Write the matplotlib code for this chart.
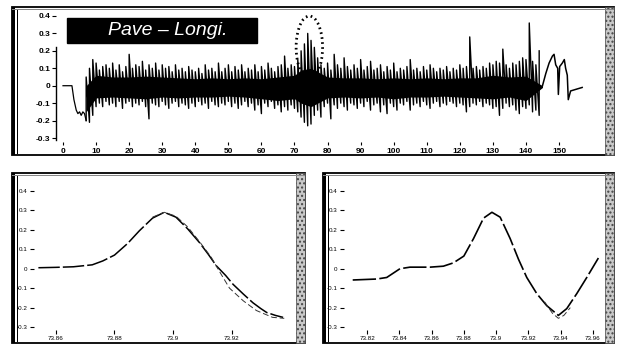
import numpy as np
import matplotlib
matplotlib.use("Agg")
import matplotlib.pyplot as plt
from matplotlib.patches import Rectangle, Ellipse

W, H = 630, 346

# ---- top panel: pavement longitudinal signal ----
pre_x = [0, 2.7, 3.3, 4.0, 4.5, 5.0, 5.5, 6.0, 6.5, 7.0]
pre_y = [0, 0, -0.08, -0.14, -0.16, -0.15, -0.17, -0.15, -0.16, -0.20]

sig_x = list(range(7, 145))
sig_hi = [0.05, 0.10, 0.15, 0.13, 0.09, 0.11, 0.12, 0.10, 0.13, 0.09,
          0.12, 0.08, 0.11, 0.18, 0.10, 0.12, 0.11, 0.14, 0.09, 0.12,
          0.10, 0.13, 0.09, 0.12, 0.10, 0.11, 0.08, 0.12, 0.09, 0.10,
          0.08, 0.11, 0.09, 0.08, 0.10, 0.07, 0.12, 0.09, 0.10, 0.08,
          0.13, 0.08, 0.10, 0.12, 0.08, 0.11, 0.09, 0.12, 0.08, 0.10,
          0.09, 0.12, 0.08, 0.11, 0.09, 0.13, 0.10, 0.08, 0.11, 0.12,
          0.17, 0.10, 0.12, 0.11, 0.15, 0.20, 0.24, 0.30, 0.26, 0.22,
          0.16, 0.12, 0.10, 0.13, 0.09, 0.18, 0.12, 0.10, 0.16, 0.11,
          0.09, 0.12, 0.10, 0.15, 0.09, 0.11, 0.14, 0.09, 0.10, 0.12,
          0.08, 0.11, 0.09, 0.13, 0.08, 0.10, 0.09, 0.11, 0.15, 0.09,
          0.10, 0.08, 0.11, 0.09, 0.12, 0.10, 0.08, 0.10, 0.09, 0.11,
          0.08, 0.10, 0.09, 0.12, 0.10, 0.11, 0.28, 0.10, 0.11, 0.09,
          0.11, 0.10, 0.13, 0.12, 0.14, 0.13, 0.21, 0.12, 0.10, 0.13,
          0.12, 0.14, 0.16, 0.15, 0.36, 0.14, 0.12, 0.20]
sig_lo = [-0.20, -0.21, -0.17, -0.12, -0.10, -0.12, -0.09, -0.11, -0.10, -0.12,
          -0.09, -0.13, -0.10, -0.09, -0.12, -0.10, -0.11, -0.09, -0.12, -0.19,
          -0.10, -0.11, -0.12, -0.09, -0.11, -0.13, -0.10, -0.09, -0.12, -0.10,
          -0.11, -0.13, -0.10, -0.12, -0.09, -0.11, -0.10, -0.13, -0.09, -0.11,
          -0.12, -0.10, -0.11, -0.09, -0.12, -0.10, -0.13, -0.11, -0.09, -0.12,
          -0.10, -0.14, -0.11, -0.16, -0.10, -0.12, -0.09, -0.13, -0.11, -0.15,
          -0.12, -0.14, -0.11, -0.13, -0.15, -0.18, -0.21, -0.23, -0.22, -0.17,
          -0.14, -0.18, -0.12, -0.10, -0.19, -0.11, -0.13, -0.10, -0.12, -0.14,
          -0.10, -0.11, -0.13, -0.10, -0.12, -0.09, -0.14, -0.11, -0.10, -0.15,
          -0.11, -0.16, -0.10, -0.12, -0.14, -0.10, -0.11, -0.09, -0.14, -0.11,
          -0.10, -0.12, -0.09, -0.11, -0.13, -0.10, -0.09, -0.12, -0.10, -0.11,
          -0.09, -0.10, -0.12, -0.10, -0.11, -0.15, -0.12, -0.10, -0.11, -0.09,
          -0.12, -0.10, -0.11, -0.13, -0.12, -0.17, -0.13, -0.10, -0.12, -0.11,
          -0.14, -0.16, -0.12, -0.13, -0.11, -0.15, -0.14, -0.17]

core_x = [7, 10, 15, 20, 25, 30, 35, 40, 45, 50, 55, 60, 65, 70, 72, 75, 78, 80,
          85, 90, 95, 100, 105, 110, 115, 120, 125, 130, 135, 140, 145]
core_hi = [0.0, 0.06, 0.05, 0.05, 0.055, 0.05, 0.045, 0.04, 0.045, 0.04, 0.045, 0.04,
           0.05, 0.06, 0.09, 0.10, 0.07, 0.05, 0.045, 0.045, 0.04, 0.045, 0.04, 0.045,
           0.04, 0.045, 0.045, 0.06, 0.05, 0.055, 0.0]
core_lo = [-0.15, -0.07, -0.065, -0.07, -0.075, -0.065, -0.07, -0.065, -0.065, -0.06,
           -0.065, -0.075, -0.085, -0.075, -0.10, -0.12, -0.09, -0.07, -0.065, -0.07,
           -0.065, -0.075, -0.065, -0.065, -0.06, -0.065, -0.07, -0.075, -0.065, -0.085, -0.01]

post_x = [145, 146, 147, 148, 148.5, 149, 149.6, 149.8, 150.2, 151, 151.6, 152,
          152.5, 152.8, 153.5, 157]
post_y = [0.0, 0.07, 0.13, 0.17, 0.18, 0.12, 0.10, -0.05, 0.11, 0.13, 0.15, 0.10,
          0.06, -0.08, -0.03, -0.01]

top_xticks = list(range(0, 151, 10))
top_yticks = [0.4, 0.3, 0.2, 0.1, 0, -0.1, -0.2, -0.3]
top_ylabels = ["0.4", "0.3", "0.2", "0.1", "0", "-0.1", "-0.2", "-0.3"]

# ---- bottom left zoom ----
bl_x1 = [73.854, 73.860, 73.866, 73.8724, 73.876, 73.880, 73.8845, 73.8885, 73.893,
         73.897, 73.901, 73.905, 73.909, 73.912, 73.9148, 73.918, 73.9205, 73.924,
         73.9273, 73.930, 73.932, 73.935, 73.9376]
bl_y1 = [0.005, 0.007, 0.01, 0.02, 0.04, 0.07, 0.13, 0.195, 0.26, 0.29, 0.265, 0.205,
         0.135, 0.075, 0.015, -0.035, -0.08, -0.13, -0.175, -0.205, -0.225, -0.24, -0.25]
bl_x2 = [73.893, 73.897, 73.901, 73.905, 73.909, 73.913, 73.9165, 73.9193, 73.924,
         73.9285, 73.934, 73.938]
bl_y2 = [0.265, 0.29, 0.27, 0.215, 0.14, 0.06, -0.03, -0.10, -0.165, -0.215, -0.25, -0.255]
bl_xticks = [73.86, 73.88, 73.9, 73.92]
bl_xlabels = ["73.86", "73.88", "73.9", "73.92"]

# ---- bottom right zoom ----
br_x1 = [73.8111, 73.826, 73.8322, 73.8404, 73.8466, 73.859, 73.8673, 73.8735, 73.88,
         73.886, 73.8922, 73.8974, 73.9025, 73.9087, 73.9139, 73.919, 73.9252, 73.9314,
         73.9386, 73.9438, 73.95, 73.9562, 73.9634]
br_y1 = [-0.058, -0.053, -0.045, 0.0, 0.008, 0.008, 0.013, 0.03, 0.065, 0.155, 0.26,
         0.29, 0.265, 0.155, 0.048, -0.045, -0.128, -0.19, -0.24, -0.205, -0.128,
         -0.045, 0.055]
br_x2 = [73.930, 73.935, 73.9386, 73.942, 73.946]
br_y2 = [-0.17, -0.23, -0.255, -0.24, -0.20]
br_xticks = [73.82, 73.84, 73.86, 73.88, 73.9, 73.92, 73.94, 73.96]
br_xlabels = ["73.82", "73.84", "73.86", "73.88", "73.9", "73.92", "73.94", "73.96"]

small_yticks = [0.4, 0.3, 0.2, 0.1, 0, -0.1, -0.2, -0.3]
small_ylabels = ["0.4", "0.3", "0.2", "0.1", "0", "-0.1", "-0.2", "-0.3"]

plt.rcParams['font.family'] = ['Liberation Sans', 'DejaVu Sans']
fig = plt.figure(figsize=(W / 100, H / 100), dpi=100)


def px_rect(x0, y0, x1, y1):
    return [x0 / W, 1 - y1 / H, (x1 - x0) / W, (y1 - y0) / H]


def add_box(x0, y0, x1, y1, **kw):
    r = px_rect(x0, y0, x1, y1)
    fig.patches.append(Rectangle((r[0], r[1]), r[2], r[3], transform=fig.transFigure, **kw))


def frame(x0, y0, x1, y1):
    add_box(x0, y0, x1, y1, fill=False, ec='black', lw=1.3, zorder=0)
    add_box(x0, y0, x0 + 3, y1, fc='black', ec='none', zorder=0)
    add_box(x0 + 5, y0 + 3, x0 + 5.8, y1 - 1, fc='black', ec='none', zorder=0)
    add_box(x1 - 9, y0, x1, y1, fc='#c8c8c8', ec='#444444', hatch='....', lw=0.5, zorder=0)
    add_box(x0, y0 + 2, x1, y0 + 2.6, fc='#888888', ec='none', zorder=0)


frame(12, 7, 614, 155)
frame(12, 173, 305, 343)
frame(323, 173, 614, 343)


def style_axes(ax, fs, bold):
    for s in ['top', 'right', 'bottom', 'left']:
        ax.spines[s].set_visible(False)
    ax.patch.set_alpha(0)
    ax.tick_params(axis='both', direction='out', length=3, width=0.8, pad=1.5,
                   labelsize=fs)
    for lab in ax.get_xticklabels() + ax.get_yticklabels():
        lab.set_fontweight('bold' if bold else 'normal')


# top axes
ax = fig.add_axes(px_rect(56.4, 12.5, 598.7, 141.5))
ax.plot(pre_x, pre_y, color='black', lw=0.9)
zx = np.repeat(sig_x, 2)
zy = np.ravel(np.column_stack([sig_lo, sig_hi]))
ax.plot(zx, zy, color='black', lw=1.0)
ax.fill_between(core_x, core_lo, core_hi, color='black', lw=0)
ax.plot(post_x, post_y, color='black', lw=1.1)
ax.add_patch(Ellipse((74.5, 0.22), 8.0, 0.36, fill=False, ec='black', lw=2.0,
                     linestyle=(0, (0.6, 1.2))))
ax.set_xlim(-2, 162)
ax.set_ylim(-0.32, 0.42)
ax.set_xticks(top_xticks)
ax.set_yticks(top_yticks)
ax.set_yticklabels(top_ylabels)
style_axes(ax, 6, True)
ax.spines['left'].set_visible(True)
ax.spines['left'].set_bounds(-0.31, 0.22)
ax.spines['left'].set_linewidth(1.0)
ax.tick_params(axis='x', length=2.5, pad=2)

# title box
add_box(67, 18, 257, 43, fc='black', ec='black', zorder=3)
fig.text(168 / W, 1 - 30.5 / H, "Pave \u2013 Longi.", color='white', fontsize=14,
         style='italic', ha='center', va='center', zorder=4)

# bottom left
ax1 = fig.add_axes(px_rect(34, 187, 298, 330))
ax1.plot(bl_x1, bl_y1, color='black', lw=1.1, linestyle=(0, (14, 2)))
ax1.plot(bl_x2, bl_y2, color='#333333', lw=0.7, linestyle=(0, (6, 3)))
ax1.set_xlim(73.8525, 73.9427)
ax1.set_ylim(-0.315, 0.42)
ax1.set_xticks(bl_xticks)
ax1.set_xticklabels(bl_xlabels)
ax1.set_yticks(small_yticks)
ax1.set_yticklabels(small_ylabels)
style_axes(ax1, 4.5, False)

# bottom right
ax2 = fig.add_axes(px_rect(344, 187, 605, 330))
ax2.plot(br_x1, br_y1, color='black', lw=1.2, linestyle=(0, (14, 2)))
ax2.plot(br_x2, br_y2, color='#333333', lw=0.7, linestyle=(0, (6, 3)))
ax2.set_xlim(73.8057, 73.9675)
ax2.set_ylim(-0.315, 0.42)
ax2.set_xticks(br_xticks)
ax2.set_xticklabels(br_xlabels)
ax2.set_yticks(small_yticks)
ax2.set_yticklabels(small_ylabels)
style_axes(ax2, 4.5, False)

fig.savefig("out.png", dpi=100)
